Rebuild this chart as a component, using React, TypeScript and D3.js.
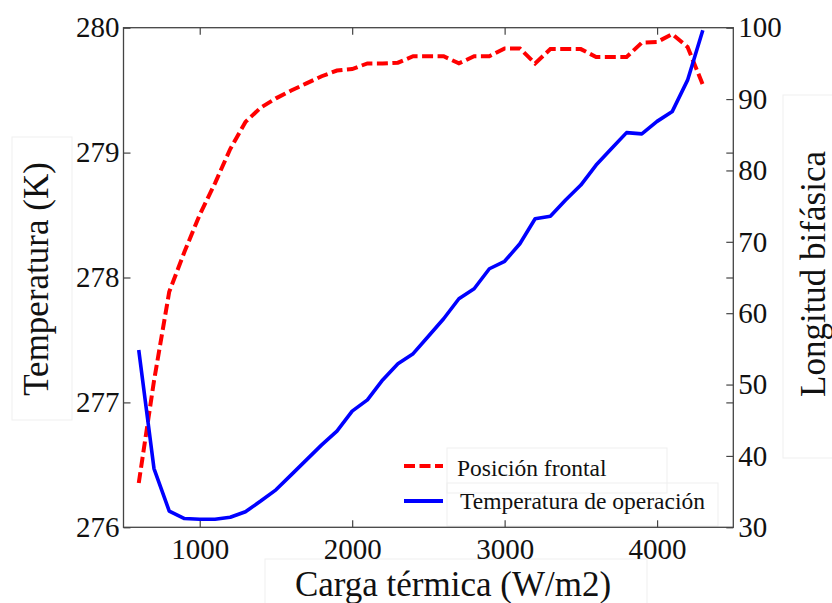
import React, { useRef, useEffect } from "react";
import * as d3 from "d3";

// carga térmica (W/m2)
const heatLoad = [
  600, 700, 800, 900, 1000, 1100, 1200, 1300, 1400, 1500, 1600, 1700, 1800,
  1900, 2000, 2100, 2200, 2300, 2400, 2500, 2600, 2700, 2800, 2900, 3000,
  3100, 3200, 3300, 3400, 3500, 3600, 3700, 3800, 3900, 4000, 4100, 4200, 4300,
];

// temperatura de operación (K) -> left axis
const tempOperation = [
  277.42, 276.47, 276.13, 276.07, 276.065, 276.065, 276.08, 276.125, 276.21,
  276.3, 276.42, 276.54, 276.66, 276.77, 276.93, 277.02, 277.18, 277.31,
  277.39, 277.53, 277.67, 277.83, 277.91, 278.07, 278.13, 278.27, 278.47,
  278.49, 278.62, 278.74, 278.9, 279.03, 279.16, 279.15, 279.25, 279.33,
  279.58, 279.98,
];

// posición frontal (longitud bifásica) -> right axis
const frontPosition = [
  36.2, 50.5, 63.0, 68.6, 73.8, 78.2, 83.0, 86.8, 88.8, 90.1, 91.2, 92.2,
  93.2, 94.0, 94.2, 95.0, 95.0, 95.1, 96.0, 96.0, 96.0, 95.0, 96.0, 96.0,
  97.1, 97.1, 95.0, 97.0, 97.0, 97.0, 95.9, 95.9, 95.9, 97.9, 98.0, 99.1,
  97.3, 92.0,
];

const xTicks = [1000, 2000, 3000, 4000];
const leftTicks = [276, 277, 278, 279, 280];
const rightTicks = [30, 40, 50, 60, 70, 80, 90, 100];

const legendLabels = ["Posición frontal", "Temperatura de operación"];

const FONT = "Liberation Serif, Times New Roman, serif";

const App = () => {
  const ref = useRef<SVGSVGElement>(null);

  useEffect(() => {
    const svg = d3.select(ref.current);
    svg.selectAll("*").remove();

    const width = 832;
    const height = 603;
    const margin = { top: 27.7, right: 98.7, bottom: 75.7, left: 123.5 };
    const x0 = margin.left;
    const x1 = width - margin.right;
    const y0 = margin.top;
    const y1 = height - margin.bottom;

    const xScale = d3.scaleLinear().domain([500, 4500]).range([x0, x1]);
    const yLeft = d3.scaleLinear().domain([276, 280]).range([y1, y0]);
    const yRight = d3.scaleLinear().domain([30, 100]).range([y1, y0]);

    const axisColor = "#444";
    const intFmt = d3.format("d");

    const styleAxis = (g, size) => {
      g.attr("font-family", FONT).attr("font-size", size);
      g.select(".domain").remove();
      g.selectAll(".tick line").attr("stroke", axisColor).attr("stroke-width", 1.2);
      g.selectAll(".tick text").attr("fill", "#111");
    };

    // faint text boxes behind titles
    const boxes = [
      [12, 137, 60, 283],
      [783, 95, 60, 363],
      [265, 559, 382, 50],
      [447, 448, 220, 45],
      [447, 483, 271, 43],
    ];
    svg
      .append("g")
      .selectAll("rect")
      .data(boxes)
      .join("rect")
      .attr("x", (d) => d[0])
      .attr("y", (d) => d[1])
      .attr("width", (d) => d[2])
      .attr("height", (d) => d[3])
      .attr("fill", "none")
      .attr("stroke", "#efefef")
      .attr("stroke-width", 1);

    // axes
    svg
      .append("g")
      .attr("transform", `translate(0,${y1})`)
      .call(d3.axisBottom(xScale).tickValues(xTicks).tickSize(-7).tickSizeOuter(0).tickPadding(11).tickFormat(intFmt))
      .call((g) => styleAxis(g, 29));

    svg
      .append("g")
      .attr("transform", `translate(0,${y0})`)
      .call(d3.axisTop(xScale).tickValues(xTicks).tickSize(-7).tickSizeOuter(0).tickFormat(() => ""))
      .call((g) => styleAxis(g, 29));

    svg
      .append("g")
      .attr("transform", `translate(${x0},0)`)
      .call(d3.axisLeft(yLeft).tickValues(leftTicks).tickSize(-7).tickSizeOuter(0).tickPadding(4).tickFormat(intFmt))
      .call((g) => styleAxis(g, 29));

    svg
      .append("g")
      .attr("transform", `translate(${x1},0)`)
      .call(d3.axisRight(yLeft).tickValues(leftTicks.slice(1, -1)).tickSize(-7).tickSizeOuter(0).tickFormat(() => ""))
      .call((g) => styleAxis(g, 29));

    svg
      .append("g")
      .attr("transform", `translate(${x1},0)`)
      .call(d3.axisRight(yRight).tickValues(rightTicks).tickSize(-7).tickSizeOuter(0).tickPadding(5).tickFormat(intFmt))
      .call((g) => styleAxis(g, 29));

    // frame
    svg
      .append("rect")
      .attr("x", x0)
      .attr("y", y0)
      .attr("width", x1 - x0)
      .attr("height", y1 - y0)
      .attr("fill", "none")
      .attr("stroke", axisColor)
      .attr("stroke-width", 1.3);

    // lines
    const tempLine = d3
      .line<number>()
      .x((d, i) => xScale(heatLoad[i]))
      .y((d) => yLeft(d));

    const frontLine = d3
      .line<number>()
      .x((d, i) => xScale(heatLoad[i]))
      .y((d) => yRight(d));

    svg
      .append("path")
      .datum(frontPosition)
      .attr("fill", "none")
      .attr("stroke", "#ff0000")
      .attr("stroke-width", 4)
      .attr("stroke-dasharray", "11 4.5")
      .attr("d", frontLine);

    svg
      .append("path")
      .datum(tempOperation)
      .attr("fill", "none")
      .attr("stroke", "#0000ff")
      .attr("stroke-width", 3.6)
      .attr("stroke-linejoin", "round")
      .attr("d", tempLine);

    // axis titles
    const titles = svg.append("g").attr("font-family", FONT).attr("font-size", 35).attr("fill", "#111");

    titles
      .append("text")
      .attr("transform", "translate(48,279) rotate(-90)")
      .attr("text-anchor", "middle")
      .text("Temperatura (K)");

    titles
      .append("text")
      .attr("transform", "translate(825,274) rotate(-90)")
      .attr("text-anchor", "middle")
      .text("Longitud bifásica");

    titles
      .append("text")
      .attr("x", 453)
      .attr("y", 596)
      .attr("text-anchor", "middle")
      .text("Carga térmica (W/m2)");

    // legend
    const legend = svg.append("g").attr("font-family", FONT).attr("font-size", 23.5).attr("fill", "#111");
    const legendStyles = [
      { color: "#ff0000", dash: "11 4.5", width: 4, y: 466, textX: 457, textY: 476 },
      { color: "#0000ff", dash: null, width: 3.8, y: 501, textX: 460, textY: 509 },
    ];
    legendStyles.forEach((s, i) => {
      legend
        .append("line")
        .attr("x1", 404)
        .attr("x2", 443)
        .attr("y1", s.y)
        .attr("y2", s.y)
        .attr("stroke", s.color)
        .attr("stroke-width", s.width)
        .attr("stroke-dasharray", s.dash);
      legend
        .append("text")
        .attr("x", s.textX)
        .attr("y", s.textY)
        .text(legendLabels[i]);
    });
  }, []);

  return (
    <svg
      ref={ref}
      width={832}
      height={603}
      style={{ position: "absolute", left: 0, top: 0, background: "#fff" }}
    ></svg>
  );
};

export default App;
